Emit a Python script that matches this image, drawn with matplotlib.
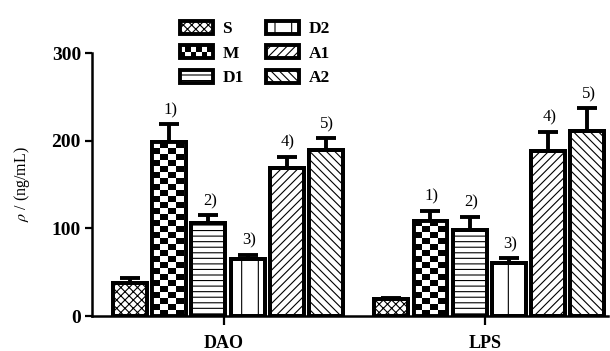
import numpy as np
import matplotlib.pyplot as plt
from matplotlib.patches import Patch, Rectangle
from matplotlib.legend_handler import HandlerBase

# concentrations per group, order S, M, D1, D2, A1, A2
groups = ['DAO', 'LPS']
series = ['S', 'M', 'D1', 'D2', 'A1', 'A2']
dao = [38, 198, 106, 65, 169, 190]
dao_err = [5, 21, 9, 5, 13, 13]
lps = [19, 108, 98, 60, 188, 211]
lps_err = [1, 12, 15, 6, 22, 26]
marks = ['', '1)', '2)', '3)', '4)', '5)']

hatches = ['xxxx', None, '---', '|', '////', '\\\\\\\\']

plt.rcParams['font.family'] = 'Liberation Serif'
plt.rcParams['mathtext.fontset'] = 'stix'
plt.rcParams['hatch.linewidth'] = 0.8

fig = plt.figure(figsize=(6.1, 3.51), dpi=100)
ax = fig.add_axes([0.151, 0.0997, 0.846, 0.749])

width = 0.13
step = 0.15
lw = 2.8
xlim = (-0.52, 1.455)
ylim = (0, 300)
# size of one checker cell in data units (about 8 x 6 px)
cx = 8 / (0.846 * 610) * (xlim[1] - xlim[0])
cy = 6 / (0.749 * 351) * (ylim[1] - ylim[0])


def checker(ax, bar, x0, h):
    nx = int(width / cx) + 2
    ny = int(h / cy) + 2
    arr = np.add.outer(np.arange(ny), np.arange(nx)) % 2
    im = ax.imshow(arr, cmap='gray_r', extent=(x0, x0 + nx * cx, 0, ny * cy),
                   origin='lower', aspect='auto', interpolation='nearest',
                   zorder=2.5)
    im.set_clip_path(bar)


for g, (vals, errs) in enumerate([(dao, dao_err), (lps, lps_err)]):
    for i in range(len(series)):
        x = g + (i - 2.5) * step
        v, e = vals[i], errs[i]
        ax.errorbar(x, v, yerr=[[0], [e]], fmt='none', ecolor='black',
                    elinewidth=lw, capsize=7, capthick=lw, zorder=1.5)
        b = ax.bar(x, v, width, facecolor='white', edgecolor='black',
                   linewidth=lw, hatch=hatches[i], zorder=2)[0]
        if series[i] == 'M':
            checker(ax, b, x - width / 2, v)
        ax.bar(x, v, width, fill=False, edgecolor='black', linewidth=lw, zorder=3)
        if marks[i]:
            ax.text(x + 0.005, v + e + 7, marks[i], ha='center', va='bottom', fontsize=12)

ax.set_xlim(*xlim)
ax.set_ylim(*ylim)
ax.set_xticks([-0.015, 0.985])
ax.set_xticklabels(groups, fontsize=13, fontweight='bold')
ax.set_yticks([0, 100, 200, 300])
ax.set_yticklabels(['0', '100', '200', '300'], fontsize=14, fontweight='bold')
ax.tick_params(axis='x', length=6.5, width=1.6, pad=7)
ax.tick_params(axis='y', length=5, width=1.6, pad=3)
for s in ['top', 'right']:
    ax.spines[s].set_visible(False)
for s in ['left', 'bottom']:
    ax.spines[s].set_linewidth(1.8)
ax.set_ylabel(r'$\rho$ / (ng/mL)', fontsize=11.5, labelpad=14)


class HandlerChecker(HandlerBase):
    def create_artists(self, legend, orig_handle, xdescent, ydescent,
                       width, height, fontsize, trans):
        x0, y0 = -xdescent, -ydescent
        arts = [Rectangle((x0, y0), width, height, facecolor='white',
                          edgecolor='black', linewidth=lw, transform=trans)]
        n = 6
        cw = width / n
        ch = height / 2
        for r in range(2):
            for c in range(n):
                if (r + c) % 2 == 0:
                    arts.append(Rectangle((x0 + c * cw, y0 + r * ch), cw, ch,
                                          facecolor='black', edgecolor='none',
                                          transform=trans))
        return arts


handles = []
for i, name in enumerate(series):
    handles.append(Patch(facecolor='white', edgecolor='black', linewidth=lw,
                         hatch=hatches[i], label=name))
ax.legend(handles=handles, ncol=2, frameon=False, loc='upper left',
          bbox_to_anchor=(171 / 610, 1 - 12 / 351), bbox_transform=fig.transFigure,
          borderpad=0, handlelength=1.9, handleheight=0.8, labelspacing=0.45,
          columnspacing=1.3, handletextpad=0.55,
          prop={'size': 12.5, 'weight': 'bold'},
          handler_map={handles[1]: HandlerChecker()})

fig.savefig('out.png', dpi=100)
